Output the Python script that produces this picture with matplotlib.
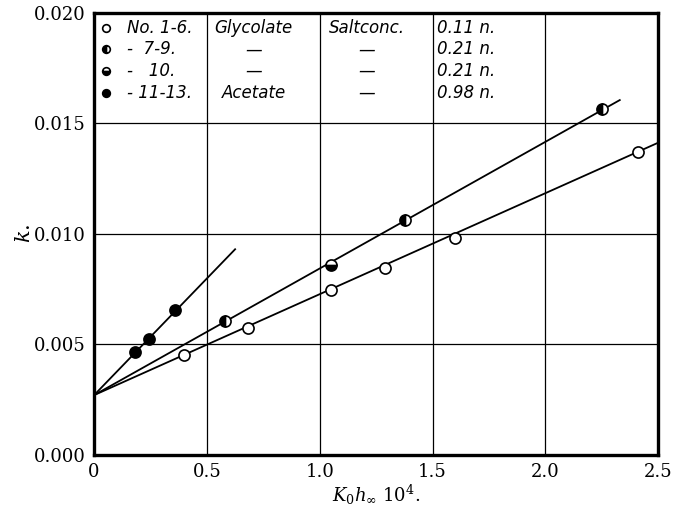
import numpy as np
import matplotlib
matplotlib.use("Agg")
import matplotlib.pyplot as plt

plt.rcParams['font.family'] = 'DejaVu Serif'
plt.rcParams['mathtext.fontset'] = 'dejavuserif'

## Data
x_glyc_011 = [0.40, 0.68, 1.05, 1.29, 1.60, 2.41]        # No. 1-6, open circles
k_glyc_011 = [0.00452, 0.00575, 0.00747, 0.00846, 0.00982, 0.01371]
x_glyc_021a = [0.58, 1.38, 2.25]                          # No. 7-9
k_glyc_021a = [0.00606, 0.01063, 0.01566]
x_glyc_021b = [1.05]                                      # No. 10
k_glyc_021b = [0.00860]
x_acet = [0.18, 0.245, 0.36]                              # No. 11-13, acetate
k_acet = [0.00466, 0.00525, 0.00656]

## Straight lines drawn by hand through the points
k_zero = 0.0027
line_x = [[0, 2.50], [0, 2.33], [0, 0.625]]
line_k = [[k_zero, 0.01412], [k_zero, 0.01605], [k_zero, 0.00930]]

## Table in the upper left corner
leg_no = ["No. 1-6.", "-  7-9.", "-   10.", "- 11-13."]
leg_salt = ["Glycolate", "\u2014", "\u2014", "Acetate"]
leg_conc_head = ["Saltconc.", "\u2014", "\u2014", "\u2014"]
leg_conc = ["0.11 n.", "0.21 n.", "0.21 n.", "0.98 n."]
leg_fill = ["none", "left", "bottom", "full"]

fig = plt.figure(figsize=(6.82, 5.11), dpi=100)
ax = fig.add_axes([0.138, 0.110, 0.827, 0.865])

for lx, lk in zip(line_x, line_k):
    ax.plot(lx, lk, 'k-', lw=1.3, zorder=2)

mk = dict(marker='o', ms=8, mec='k', mew=1.2, ls='none', zorder=3)
ax.plot(x_glyc_011, k_glyc_011, mfc='white', **mk)
ax.plot(x_glyc_021a, k_glyc_021a, fillstyle='left', mfc='k', mfcalt='white', **mk)
ax.plot(x_glyc_021b, k_glyc_021b, fillstyle='bottom', mfc='k', mfcalt='white', **mk)
ax.plot(x_acet, k_acet, mfc='k', **mk)

ax.set_xlim(0, 2.5)
ax.set_ylim(0, 0.020)
ax.set_xticks([0, 0.5, 1.0, 1.5, 2.0, 2.5])
ax.set_xticklabels(["0", "0.5", "1.0", "1.5", "2.0", "2.5"])
ax.set_yticks([0, 0.005, 0.010, 0.015, 0.020])
ax.set_yticklabels(["0.000", "0.005", "0.010", "0.015", "0.020"])
ax.tick_params(length=0, labelsize=13, pad=6)
ax.grid(True, color='k', lw=0.9)
for s in ax.spines.values():
    s.set_linewidth(2.4)

ax.set_xlabel(r"$K_0h_\infty\ 10^4.$", fontsize=13, labelpad=1)
ax.set_ylabel(r"$k.$", fontsize=15, labelpad=0)

# table rows (axes fraction)
rows_y = [0.966, 0.917, 0.868, 0.819]
lf = dict(family='DejaVu Sans', style='italic', fontsize=12, va='center',
          transform=ax.transAxes)
for i in range(4):
    yy = rows_y[i]
    ax.plot([0.021], [yy], transform=ax.transAxes, marker='o', ms=5.5,
            mec='k', mew=1.2, fillstyle=leg_fill[i], mfc='k', mfcalt='white',
            ls='none', clip_on=False)
    ax.text(0.058, yy, leg_no[i], ha='left', **lf)
    ax.text(0.283, yy, leg_salt[i], ha='center', **lf)
    ax.text(0.483, yy, leg_conc_head[i], ha='center', **lf)
    ax.text(0.608, yy, leg_conc[i], ha='left', **lf)

fig.savefig("out.png", dpi=100)
